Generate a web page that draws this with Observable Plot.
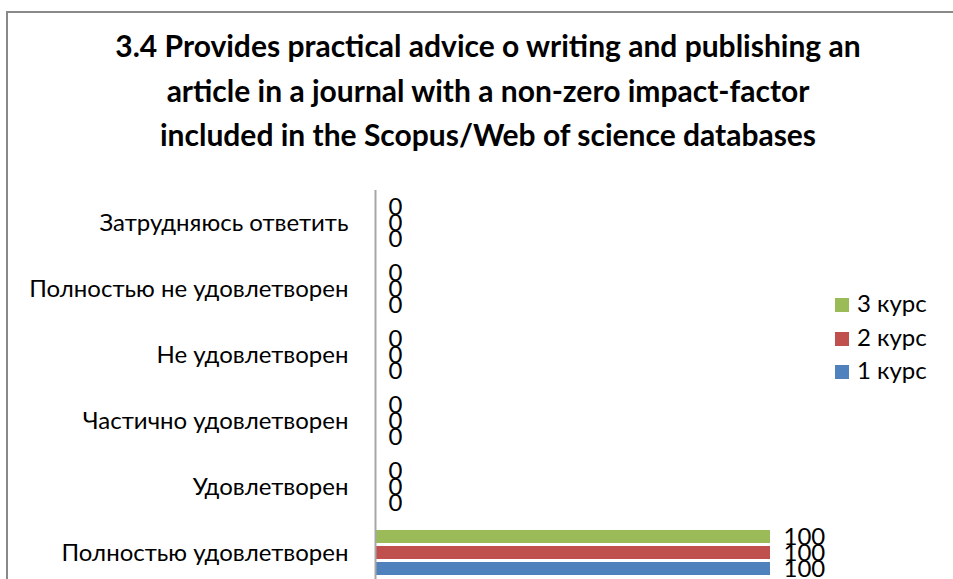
<!DOCTYPE html>
<html><head><meta charset="utf-8">
<script src="https://cdn.jsdelivr.net/npm/d3@7"></script>
<script src="https://cdn.jsdelivr.net/npm/@observablehq/plot@0.6"></script>
<style>
body{margin:0;background:#fff;}
#wrap{position:relative;width:953px;height:579px;overflow:hidden;font-family:Lato, "Open Sans", sans-serif;color:#000;}
#frame{position:absolute;left:6px;top:11px;width:960px;height:600px;border-left:2px solid #898989;border-top:2px solid #898989;}
#title{position:absolute;left:6px;width:964px;top:23px;text-align:center;font-weight:bold;font-size:30px;line-height:44.5px;}
#chart{position:absolute;left:0;top:0;}
#legend{position:absolute;left:835px;top:286px;font-size:24px;line-height:33.5px;}
#legend .sw{display:inline-block;width:14px;height:14px;margin-right:8px;vertical-align:0px;}
</style>
</head><body>
<div id="wrap">
  <div id="frame"></div>
  <div id="title">3.4 Provides practical advice o writing and publishing an<br>article in a journal with a non-zero impact-factor<br>included in the Scopus/Web of science databases</div>
  <div id="chart"></div>
  <div id="legend"></div>
</div>
<script>
const categories = ["Затрудняюсь ответить","Полностью не удовлетворен","Не удовлетворен","Частично удовлетворен","Удовлетворен","Полностью удовлетворен"];
const series = ["1 курс","2 курс","3 курс"];
const colors = ["#4F81BD","#C0504D","#9BBB59"];
const course1 = [0,0,0,0,0,100];
const course2 = [0,0,0,0,0,100];
const course3 = [0,0,0,0,0,100];

const seriesValues = [course1, course2, course3];
const rows = [];
categories.forEach((c,i)=>series.forEach((s,j)=>rows.push({category:c, series:s, value:seriesValues[j][i]})));

const chart = Plot.plot({
  width:953, height:592,
  marginLeft:375, marginRight:183, marginTop:189, marginBottom:5,
  style:{fontFamily:'Lato, "Open Sans", sans-serif', fontSize:"24px", color:"#000", background:"transparent"},
  x:{domain:[0,100], axis:null},
  fy:{domain:categories, padding:0, label:null, tickSize:0, tickPadding:27},
  y:{domain:["3 курс","2 курс","1 курс"], paddingInner:0.17, paddingOuter:0.56, axis:null},
  color:{domain:series, range:colors},
  marks:[
    Plot.barX(rows,{x:"value", y:"series", fy:"category", fill:"series"}),
    Plot.text(rows,{x:"value", y:"series", fy:"category", text:d=>String(d.value), textAnchor:"start", dx:13, fontSize:24, fill:"#000"}),
    Plot.ruleX([0],{stroke:"#a6a6a6", strokeWidth:2})
  ]
});
document.getElementById("chart").appendChild(chart);

const legend = document.getElementById("legend");
series.slice().reverse().forEach(s=>{
  const row = document.createElement("div");
  const sw = document.createElement("span");
  sw.className="sw"; sw.style.background = colors[series.indexOf(s)];
  row.appendChild(sw);
  row.appendChild(document.createTextNode(s));
  legend.appendChild(row);
});
</script>
</body></html>
